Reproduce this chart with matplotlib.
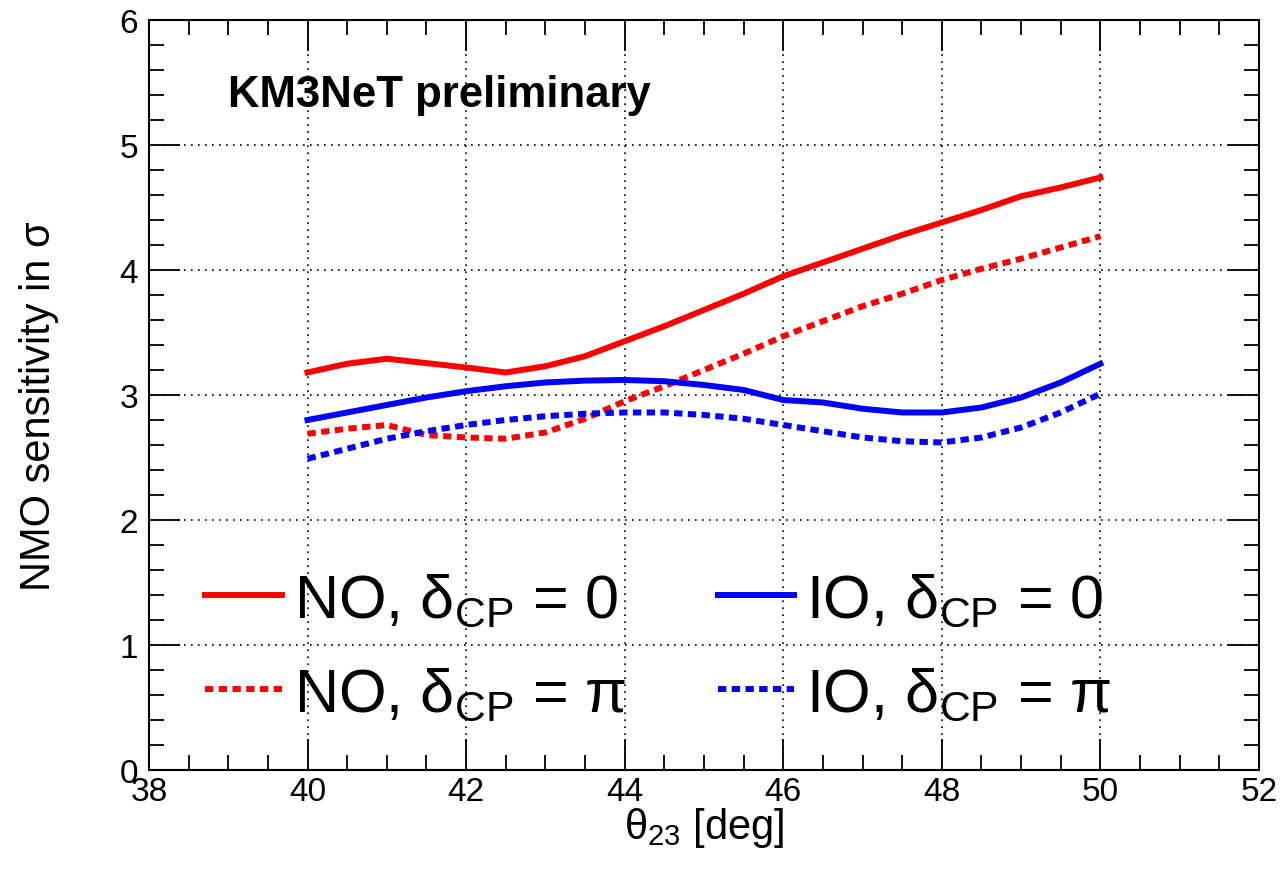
import matplotlib
matplotlib.use("Agg")
import matplotlib.pyplot as plt
from matplotlib.ticker import MultipleLocator

plt.rcParams['font.family'] = ['Liberation Sans', 'DejaVu Sans']
plt.rcParams['mathtext.fontset'] = 'custom'
plt.rcParams['mathtext.rm'] = 'Liberation Sans'
plt.rcParams['mathtext.it'] = 'Liberation Sans:italic'
plt.rcParams['mathtext.bf'] = 'Liberation Sans:bold'

theta23 = [40, 40.5, 41, 41.5, 42, 42.5, 43, 43.5, 44, 44.5, 45,
           45.5, 46, 46.5, 47, 47.5, 48, 48.5, 49, 49.5, 50]
no_dcp0 = [3.18, 3.25, 3.29, 3.255, 3.22, 3.18, 3.23, 3.31, 3.43, 3.55, 3.68,
           3.81, 3.95, 4.06, 4.17, 4.28, 4.38, 4.48, 4.59, 4.66, 4.74]
no_dcppi = [2.69, 2.73, 2.76, 2.68, 2.66, 2.65, 2.70, 2.81, 2.95, 3.07, 3.20,
            3.33, 3.47, 3.59, 3.71, 3.81, 3.92, 4.01, 4.09, 4.18, 4.27]
io_dcp0 = [2.80, 2.86, 2.92, 2.98, 3.03, 3.07, 3.10, 3.115, 3.12, 3.11, 3.08,
           3.04, 2.96, 2.94, 2.89, 2.86, 2.86, 2.90, 2.98, 3.10, 3.25]
io_dcppi = [2.49, 2.57, 2.65, 2.71, 2.76, 2.80, 2.83, 2.85, 2.86, 2.86, 2.84,
            2.81, 2.76, 2.71, 2.66, 2.63, 2.62, 2.66, 2.74, 2.86, 3.01]

labels = [r'NO, δ$_{\mathrm{CP}}$ = 0', r'NO, δ$_{\mathrm{CP}}$ = π',
          r'IO, δ$_{\mathrm{CP}}$ = 0', r'IO, δ$_{\mathrm{CP}}$ = π']

fig = plt.figure(figsize=(12.82, 8.70), dpi=100)
ax = fig.add_axes([0.1162, 0.1138, 0.8658, 0.8621])

lw = 4.3
dots = (0, (1.4, 0.9))
h1, = ax.plot(theta23, no_dcp0, color='#ff0000', lw=lw, label=labels[0], zorder=3)
h2, = ax.plot(theta23, no_dcppi, color='#ff0000', lw=lw, ls=dots, label=labels[1], zorder=3)
h3, = ax.plot(theta23, io_dcp0, color='#0000ff', lw=lw, label=labels[2], zorder=3)
h4, = ax.plot(theta23, io_dcppi, color='#0000ff', lw=lw, ls=dots, label=labels[3], zorder=3)

ax.set_xlim(38, 52)
ax.set_ylim(0, 6)
ax.xaxis.set_major_locator(MultipleLocator(2))
ax.xaxis.set_minor_locator(MultipleLocator(0.5))
ax.yaxis.set_major_locator(MultipleLocator(1))
ax.yaxis.set_minor_locator(MultipleLocator(0.2))
ax.tick_params(which='both', direction='in', top=True, right=True, width=1.3, color='black')
ax.tick_params(which='major', length=22, labelsize=24, pad=4)
ax.tick_params(axis='y', which='major', pad=8)
ax.tick_params(which='minor', length=11)
for s in ax.spines.values():
    s.set_linewidth(1.5)

ax.grid(True, which='major', color='black', lw=1.2, ls=(0, (1, 3.2)), zorder=1)

ax.set_xlabel(r'θ$_{\mathrm{23}}$ [deg]', fontsize=30)
ax.set_ylabel('NMO sensitivity in σ', fontsize=30)
ax.xaxis.set_label_coords(0.5, -0.047)
ax.yaxis.set_label_coords(-0.081, 0.487)

ax.text(0.071, 0.901, 'KM3NeT preliminary', transform=ax.transAxes,
        fontsize=31.5, fontweight='bold', va='center', ha='left')

leg = ax.legend(handles=[h1, h2, h3, h4], ncol=2, loc='center',
                bbox_to_anchor=(0.459, 0.163), frameon=False, fontsize=44,
                handlelength=1.25, handletextpad=0.2, columnspacing=1.5,
                labelspacing=0.6, borderpad=0, borderaxespad=0)

fig.savefig('out.png', dpi=100)
